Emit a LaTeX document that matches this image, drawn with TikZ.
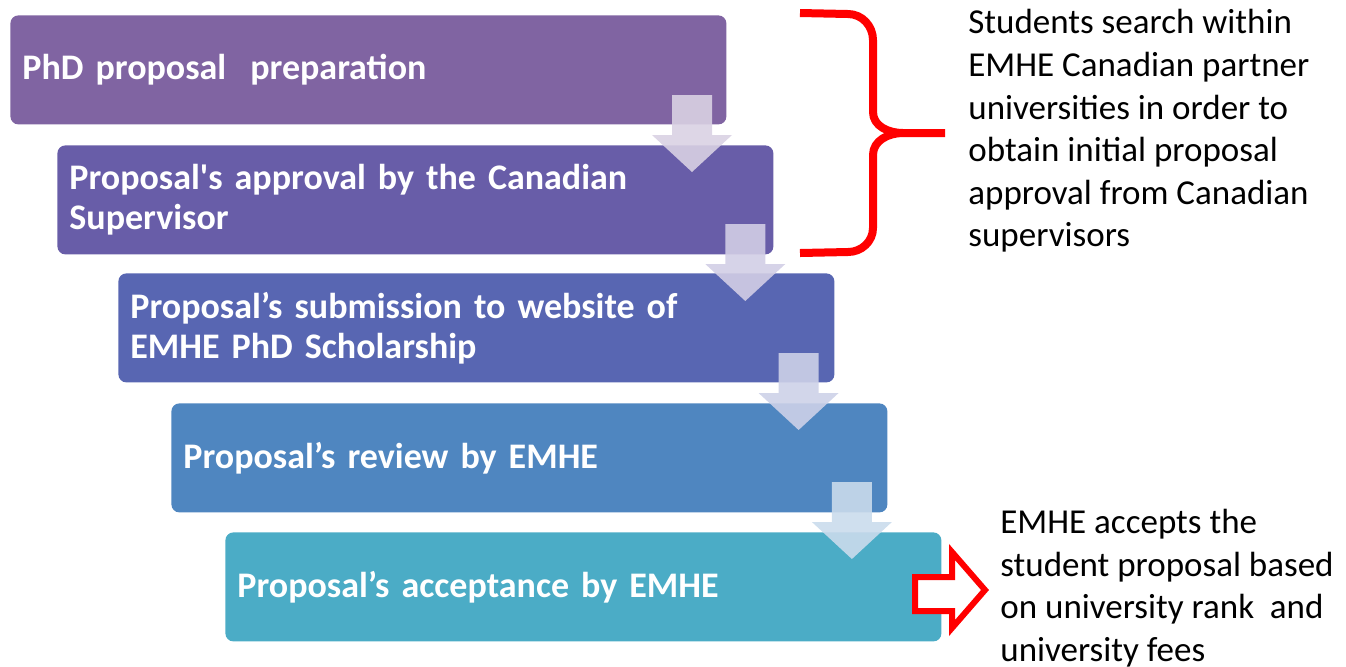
\documentclass[tikz,border=0pt]{standalone}
\usepackage{fontspec}
\setmainfont{Carlito}
\usetikzlibrary{positioning}
\definecolor{stepA}{RGB}{128,100,162}
\definecolor{stepB}{RGB}{104,93,168}
\definecolor{stepC}{RGB}{88,102,178}
\definecolor{stepD}{RGB}{79,134,192}
\definecolor{stepE}{RGB}{75,172,198}
\tikzstyle{stage} = [rectangle, rounded corners=4pt, minimum width=358pt, minimum height=54.5pt, text width=346pt, inner xsep=6pt, align=left, text=white, font=\fontsize{18}{20}\selectfont\bfseries, anchor=north west]
\tikzstyle{note} = [align=left, inner sep=0pt, font=\fontsize{17.5}{21.3}\selectfont, anchor=west]
\tikzstyle{bigbrace} = [red, line width=4pt, line join=round]

\begin{document}
\begin{tikzpicture}[x=0.5pt,y=-0.5pt]
	\useasboundingbox (0,0) rectangle (1346,666);
	\node[stage, fill=stepA] (prep) at (10,15) {PhD proposal\ \ preparation};
	\node[stage, fill=stepB] (approval) at (57,145) {Proposal\textquotesingle s approval by the Canadian\\Supervisor};
	\node[stage, fill=stepC] (submission) at (118,273) {Proposal’s submission to website of\\EMHE PhD Scholarship};
	\node[stage, fill=stepD] (review) at (171,403) {Proposal’s review by EMHE};
	\node[stage, fill=stepE] (acceptance) at (225,532) {Proposal’s acceptance by EMHE};
	% arrows between the stages
	\foreach \k/\c in {0/stepA,1/stepB,2/stepC,3/stepD}
	\fill[\c!30!white, fill opacity=0.9, shift={(53.3*\k,129*\k)}] (672,95) -- (712,95) -- (712,135) -- (732,135) -- (692,172) -- (652,135) -- (672,135) -- cycle;
	% brace and notes
	\draw[bigbrace] (800,13) -- (848,14) to[out=0,in=90] (873,40) -- (873,112) to[out=-90,in=180] (903,133) -- (945,133)
		(903,133) to[out=180,in=90] (873,155) -- (873,228) to[out=-90,in=0] (848,252) -- (800,253);
	\node[note] (searchnote) at (968,131) {Students search within\\EMHE Canadian partner\\universities in order to\\obtain initial proposal\\approval from Canadian\\supervisors};
	\filldraw[fill=white, draw=red, line width=3pt] (915,577) -- (952,577) -- (952,552) -- (985,590) -- (952,628) -- (952,611) -- (915,611) -- cycle;
	\node[note] (acceptnote) at (1000,588) {EMHE accepts the\\student proposal based\\on university rank\ \ and\\university fees};
\end{tikzpicture}
\end{document}
